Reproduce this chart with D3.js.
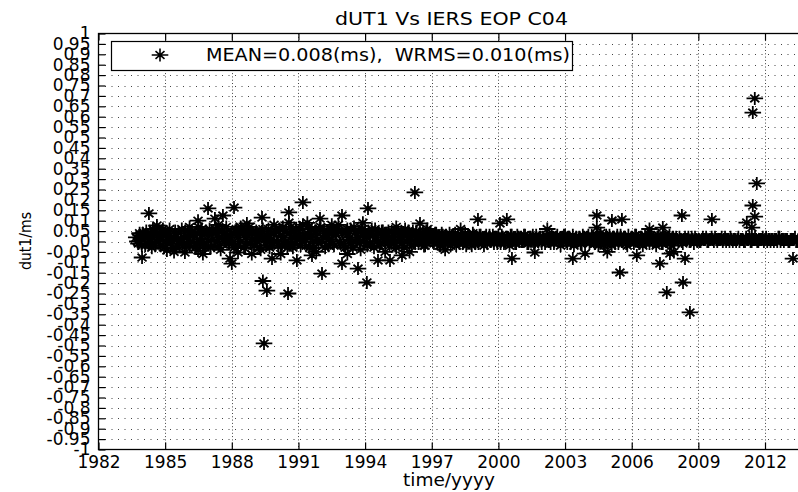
<!DOCTYPE html>
<html>
<head>
<meta charset="utf-8">
<script src="https://cdn.jsdelivr.net/npm/d3@7"></script>
<style>
    html, body { margin: 0; padding: 0; background: #fff; }
    svg text { font-family: "DejaVu Sans", sans-serif; fill: #000; }
</style>
</head>
<body>
<svg id="chart" width="798" height="492"></svg>
<script>
// chart text
const titleText = 'dUT1 Vs IERS EOP C04';
const legendText = 'MEAN=0.008(ms),  WRMS=0.010(ms)';
const xLabelText = 'time/yyyy';
const yLabelText = 'dut1/ms';

// tick labels
const xTickYears = [1982, 1985, 1988, 1991, 1994, 1997, 2000, 2003, 2006, 2009, 2012];
const yTickLabels = ['-1', '-0.95', '-0.9', '-0.85', '-0.8', '-0.75', '-0.7', '-0.65', '-0.6', '-0.55',
    '-0.5', '-0.45', '-0.4', '-0.35', '-0.3', '-0.25', '-0.2', '-0.15', '-0.1', '-0.05', '0',
    '0.05', '0.1', '0.15', '0.2', '0.25', '0.3', '0.35', '0.4', '0.45', '0.5',
    '0.55', '0.6', '0.65', '0.7', '0.75', '0.8', '0.85', '0.9', '0.95', '1'];

// dense band of dUT1 residuals (ms), sampled every 0.1 yr from 1983.7
const bandStart = 1983.7;
const bandStep = 0.1;
const bandValues = [
    0.02, -0.01, 0.03,
    0.04, -0.02, 0.03, 0.01, -0.03, 0.05, 0.00, 0.02, -0.02, 0.04,   // 1984
    0.03, -0.01, 0.06, 0.00, 0.02, -0.03, 0.04, 0.01, -0.02, 0.05,   // 1985
    0.02, -0.02, 0.05, 0.03, -0.01, 0.07, 0.00, 0.03, -0.03, 0.04,   // 1986
    0.06, 0.01, -0.02, 0.04, 0.02, -0.04, 0.05, 0.00, 0.03, -0.01,   // 1987
    0.04, -0.03, 0.06, 0.02, 0.00, 0.05, -0.02, 0.03, 0.07, 0.01,    // 1988
    -0.02, 0.05, 0.02, -0.04, 0.06, 0.01, 0.03, -0.03, 0.04, 0.00,   // 1989
    0.05, -0.02, 0.03, 0.07, 0.00, -0.03, 0.04, 0.02, -0.01, 0.06,   // 1990
    0.03, -0.02, 0.08, 0.01, 0.04, -0.03, 0.06, 0.00, 0.05, -0.01,   // 1991
    0.07, 0.02, -0.03, 0.05, 0.01, 0.06, -0.02, 0.03, 0.08, -0.01,   // 1992
    0.04, -0.03, 0.06, 0.02, -0.01, 0.07, 0.00, 0.05, -0.04, 0.03,   // 1993
    0.05, -0.02, 0.03, 0.06, -0.03, 0.02, 0.04, -0.01, 0.05, 0.00,   // 1994
    0.03, -0.02, 0.05, 0.01, -0.03, 0.04, 0.02, -0.01, 0.06, 0.00,   // 1995
    0.04, -0.02, 0.03, 0.05, -0.01, 0.02, 0.04, -0.02, 0.03, 0.01,   // 1996
    0.03, -0.01, 0.04, 0.01, -0.02, 0.03, 0.02, -0.01, 0.04, 0.00,   // 1997
    0.02, -0.02, 0.03, 0.01, -0.01, 0.04, 0.00, 0.02, -0.02, 0.03,   // 1998
    0.02, -0.01, 0.03, 0.00, 0.02, -0.01, 0.03, 0.01, -0.01, 0.02,   // 1999
    0.03, -0.01, 0.02, 0.00, 0.02, -0.02, 0.03, 0.01, -0.01, 0.02,   // 2000
    0.02, 0.00, 0.03, -0.01, 0.02, 0.01, -0.01, 0.03, 0.00, 0.02,    // 2001
    0.02, -0.01, 0.02, 0.00, 0.03, -0.01, 0.02, 0.01, -0.02, 0.02,   // 2002
    0.03, -0.01, 0.02, 0.00, -0.02, 0.02, 0.01, -0.01, 0.03, 0.00,   // 2003
    0.02, -0.01, 0.03, 0.00, 0.02, -0.02, 0.04, 0.01, -0.01, 0.02,   // 2004
    0.03, -0.02, 0.02, 0.01, -0.01, 0.03, 0.00, 0.02, -0.02, 0.01,   // 2005
    0.02, -0.01, 0.03, 0.00, 0.02, -0.02, 0.03, 0.01, -0.01, 0.02,   // 2006
    0.02, -0.02, 0.03, 0.01, -0.01, 0.02, 0.00, 0.03, -0.02, 0.01,   // 2007
    0.02, 0.00, 0.01, -0.01, 0.02, 0.01, 0.00, 0.02, -0.01, 0.01,    // 2008
    0.01, 0.00, 0.02, 0.01, 0.00, 0.01, 0.02, 0.00, 0.01, 0.01,      // 2009
    0.01, 0.00, 0.02, 0.01, 0.00, 0.01, 0.01, 0.00, 0.02, 0.01,      // 2010
    0.01, 0.00, 0.01, 0.02, 0.00, 0.01, 0.01, 0.00, 0.01, 0.02,      // 2011
    0.01, 0.00, 0.01, 0.01, 0.00, 0.01, 0.02, 0.00, 0.01, 0.01,      // 2012
    0.01, 0.00, 0.01, 0.01, 0.00, 0.01                               // 2013
];
// the samples in between (each half a step later)
const bandValuesMid = [
    0.00, 0.04, -0.02,
    0.01, 0.05, -0.01, 0.03, 0.06, -0.02, 0.04, 0.01, 0.05, -0.03,   // 1984
    0.00, 0.04, 0.02, -0.03, 0.05, 0.01, -0.01, 0.06, 0.02, -0.02,   // 1985
    0.05, 0.00, 0.03, -0.03, 0.04, 0.01, 0.06, -0.02, 0.05, 0.00,    // 1986
    -0.03, 0.04, 0.06, 0.00, -0.02, 0.05, 0.01, 0.07, -0.01, 0.03,   // 1987
    0.00, 0.05, -0.02, 0.04, 0.06, -0.03, 0.02, 0.05, -0.01, 0.04,   // 1988
    0.04, 0.00, -0.03, 0.05, 0.02, -0.02, 0.06, 0.01, -0.01, 0.05,   // 1989
    0.00, 0.06, -0.02, 0.02, 0.05, -0.01, 0.07, -0.03, 0.04, 0.01,   // 1990
    0.06, 0.00, 0.03, -0.02, 0.07, 0.02, -0.03, 0.05, 0.01, 0.06,    // 1991
    0.00, 0.05, 0.03, -0.02, 0.06, -0.01, 0.04, 0.06, 0.00, 0.05,    // 1992
    -0.02, 0.05, 0.01, 0.06, -0.03, 0.04, 0.02, -0.01, 0.06, 0.00,   // 1993
    0.02, 0.05, -0.01, 0.03, 0.06, 0.00, -0.02, 0.05, 0.01, 0.04,    // 1994
    0.05, 0.00, 0.02, -0.02, 0.05, 0.01, 0.04, -0.03, 0.03, 0.05,    // 1995
    0.01, 0.05, -0.01, 0.02, 0.04, 0.00, -0.02, 0.05, 0.01, 0.04,    // 1996
    0.00, 0.04, 0.02, -0.02, 0.04, 0.00, 0.03, 0.01, -0.02, 0.03,    // 1997
    0.04, 0.00, -0.01, 0.03, 0.02, -0.02, 0.03, 0.01, 0.04, -0.01,   // 1998
    0.00, 0.03, 0.01, -0.02, 0.03, 0.01, 0.00, 0.03, 0.02, -0.01,    // 1999
    0.01, 0.03, -0.01, 0.02, 0.00, 0.03, 0.01, -0.01, 0.03, 0.00,    // 2000
    0.00, 0.03, 0.01, -0.01, 0.02, 0.03, 0.00, 0.01, 0.02, -0.01,    // 2001
    0.01, 0.03, 0.00, -0.01, 0.02, 0.01, 0.03, 0.00, 0.01, 0.03,     // 2002
    0.00, 0.02, -0.01, 0.03, 0.01, 0.00, 0.02, -0.01, 0.02, 0.01,    // 2003
    0.03, 0.00, 0.01, -0.01, 0.03, 0.00, 0.02, -0.02, 0.03, 0.01,    // 2004
    0.00, 0.02, -0.01, 0.03, 0.01, 0.00, 0.02, -0.01, 0.03, 0.01,    // 2005
    0.01, 0.03, 0.00, -0.01, 0.02, 0.01, 0.00, 0.02, 0.03, 0.00,     // 2006
    0.00, 0.02, 0.01, -0.01, 0.03, 0.00, 0.02, -0.01, 0.02, 0.01,    // 2007
    0.01, 0.02, 0.00, 0.01, 0.01, 0.02, 0.00, 0.01, 0.02, 0.00,      // 2008
    0.00, 0.01, 0.01, 0.02, 0.00, 0.01, 0.01, 0.02, 0.00, 0.01,      // 2009
    0.02, 0.01, 0.00, 0.01, 0.02, 0.00, 0.01, 0.01, 0.00, 0.01,      // 2010
    0.00, 0.02, 0.01, 0.00, 0.01, 0.02, 0.00, 0.01, 0.01, 0.00,      // 2011
    0.02, 0.01, 0.00, 0.01, 0.01, 0.00, 0.02, 0.01, 0.00, 0.01,      // 2012
    0.00, 0.01, 0.01, 0.02, 0.00, 0.01                               // 2013
];

// scattered points outside the band
const outlierYears = [
    1983.96, 1984.27, 1984.63, 1985.08, 1985.89, 1986.48, 1986.48, 1986.93, 1987.24, 1987.60,
    1988.10, 1988.00, 1987.92, 1988.68, 1988.28, 1989.36, 1989.40, 1989.58, 1989.45, 1990.53,
    1990.57, 1990.57, 1991.20, 1989.81, 1990.93, 1991.61, 1992.06, 1991.97, 1992.96, 1992.96,
    1993.68, 1994.13, 1994.08, 1994.58, 1995.12, 1995.66, 1996.24, 1996.47,
    1999.08, 2000.07, 2000.38, 2000.61, 2001.64, 2003.35, 2003.90, 2004.43, 2004.43, 2005.11,
    2005.56, 2005.47, 2006.23, 2007.27, 2007.40, 2007.58, 2007.72, 2008.26, 2008.31, 2008.40,
    2008.62, 2009.61, 2011.18, 2011.54, 2011.45, 2011.63, 2011.45, 2011.54, 2011.41, 2013.26,
    1984.90, 1985.40, 1986.10, 1986.70, 1987.40, 1988.40, 1988.90, 1989.90, 1990.20, 1991.40,
    1991.80, 1992.50, 1993.20, 1993.90, 1994.90, 1995.40, 1996.00, 1996.80, 1997.60, 1998.30,
    2002.20, 2004.90, 2006.80, 2007.90
];
const outlierValues = [
    -0.077, 0.135, 0.077, -0.043, -0.053, 0.100, -0.043, 0.159, 0.110, 0.125,
    0.163, -0.106, -0.082, 0.087, -0.053, 0.115, -0.190, -0.236, -0.490, -0.250,
    0.140, 0.091, 0.188, -0.082, -0.091, -0.067, -0.154, 0.110, 0.125, -0.106,
    -0.130, 0.159, -0.197, -0.091, -0.091, -0.067, 0.236, 0.087,
    0.106, 0.087, 0.106, -0.082, -0.053, -0.082, -0.058, 0.125, 0.067, 0.101,
    0.106, -0.149, -0.067, -0.106, 0.067, -0.245, -0.058, 0.125, -0.197, -0.082,
    -0.341, 0.106, 0.091, 0.688, 0.620, 0.279, 0.173, 0.120, 0.067, -0.082,
    0.060, -0.050, 0.070, -0.060, 0.080, 0.070, -0.060, 0.080, -0.060, 0.090,
    -0.050, 0.080, -0.060, 0.090, -0.050, 0.070, -0.050, 0.060, -0.040, 0.060,
    0.060, -0.050, 0.060, -0.050
];

document.addEventListener('DOMContentLoaded', function () {
    const svg = d3.select('#chart');

    const left = 98.5, right = 805, top = 33.5, bottom = 449.5;

    const x = d3.scaleLinear().domain([1982, 2013.8]).range([left, right]);
    const y = d3.scaleLinear().domain([-1, 1]).range([bottom, top]);

    const yTickValues = yTickLabels.map(Number);

    // dotted grid
    const grid = svg.append('g').attr('stroke', '#444').attr('stroke-width', 1).attr('fill', 'none');
    grid.selectAll('line.h')
        .data(yTickValues.filter(v => v > -1 && v < 1))
        .enter()
        .append('line')
        .attr('class', 'h')
        .attr('x1', left).attr('x2', right)
        .attr('y1', d => Math.round(y(d)) + 0.5)
        .attr('y2', d => Math.round(y(d)) + 0.5)
        .attr('stroke-dasharray', '1,5.5');
    grid.selectAll('line.v')
        .data(xTickYears.slice(1))
        .enter()
        .append('line')
        .attr('class', 'v')
        .attr('x1', d => Math.round(x(d)) + 0.5)
        .attr('x2', d => Math.round(x(d)) + 0.5)
        .attr('y1', top).attr('y2', bottom)
        .attr('stroke-dasharray', '1,2.3');

    // star marker like MATLAB '*' (the picture is a bit stretched sideways)
    const starPath = 'M-8.3,0H8.3M0,-6.5V6.5M-4.5,-3.8L4.5,3.8M-4.5,3.8L4.5,-3.8';

    const points = [];
    bandValues.forEach((v, i) => points.push({ year: bandStart + i * bandStep, value: v }));
    bandValuesMid.forEach((v, i) => points.push({ year: bandStart + (i + 0.5) * bandStep, value: v }));
    outlierYears.forEach((yr, i) => points.push({ year: yr, value: outlierValues[i] }));

    svg.append('clipPath').attr('id', 'plotClip')
        .append('rect')
        .attr('x', left).attr('y', top)
        .attr('width', right - left).attr('height', bottom - top);

    svg.append('g')
        .attr('clip-path', 'url(#plotClip)')
        .selectAll('path')
        .data(points)
        .enter()
        .append('path')
        .attr('d', starPath)
        .attr('transform', d => `translate(${x(d.year)},${y(d.value)})`)
        .attr('stroke', '#000')
        .attr('stroke-width', 1.8)
        .attr('fill', 'none');

    // axes (ticks point inward)
    const yAxis = d3.axisLeft(y)
        .tickValues(yTickValues)
        .tickFormat((d, i) => yTickLabels[i])
        .tickSize(-7)
        .tickPadding(8);
    const gy = svg.append('g').attr('transform', `translate(${left},0)`).call(yAxis);

    const xAxis = d3.axisBottom(x)
        .tickValues(xTickYears)
        .tickFormat(d3.format('d'))
        .tickSize(-7)
        .tickPadding(6);
    const gx = svg.append('g').attr('transform', `translate(0,${bottom})`).call(xAxis);

    const xAxisTop = d3.axisTop(x)
        .tickValues(xTickYears)
        .tickFormat('')
        .tickSize(-7);
    const gt = svg.append('g').attr('transform', `translate(0,${top})`).call(xAxisTop);

    [gx, gy, gt].forEach(g => {
        g.select('.domain').remove();
        g.selectAll('.tick line').attr('stroke', '#000').attr('stroke-width', 1.2);
        g.selectAll('.tick text')
            .attr('font-family', '"DejaVu Sans", sans-serif')
            .attr('font-size', 17)
            .attr('fill', '#000');
    });

    // frame
    svg.append('rect')
        .attr('x', left).attr('y', top)
        .attr('width', right - left).attr('height', bottom - top)
        .attr('fill', 'none')
        .attr('stroke', '#000')
        .attr('stroke-width', 1.3);

    // legend
    const legend = svg.append('g');
    legend.append('rect')
        .attr('x', 111.5).attr('y', 41.5)
        .attr('width', 461).attr('height', 29)
        .attr('fill', '#fff')
        .attr('stroke', '#000')
        .attr('stroke-width', 1.2);
    legend.append('path')
        .attr('d', starPath)
        .attr('transform', 'translate(160,55)')
        .attr('stroke', '#000')
        .attr('stroke-width', 1.6)
        .attr('fill', 'none');
    legend.append('text')
        .attr('x', 206).attr('y', 61)
        .attr('font-size', 17)
        .style('white-space', 'pre')
        .attr('textLength', 364)
        .attr('lengthAdjust', 'spacingAndGlyphs')
        .text(legendText);

    // title and axis labels
    svg.append('text')
        .attr('x', 451.5).attr('y', 25)
        .attr('text-anchor', 'middle')
        .attr('font-size', 17)
        .attr('textLength', 233)
        .attr('lengthAdjust', 'spacingAndGlyphs')
        .text(titleText);

    svg.append('text')
        .attr('x', 449).attr('y', 486)
        .attr('text-anchor', 'middle')
        .attr('font-size', 17)
        .attr('textLength', 92)
        .attr('lengthAdjust', 'spacingAndGlyphs')
        .text(xLabelText);

    svg.append('text')
        .attr('transform', 'translate(31,241) rotate(-90)')
        .attr('text-anchor', 'middle')
        .attr('font-size', 15)
        .attr('textLength', 58)
        .attr('lengthAdjust', 'spacingAndGlyphs')
        .text(yLabelText);
});
</script>
</body>
</html>
